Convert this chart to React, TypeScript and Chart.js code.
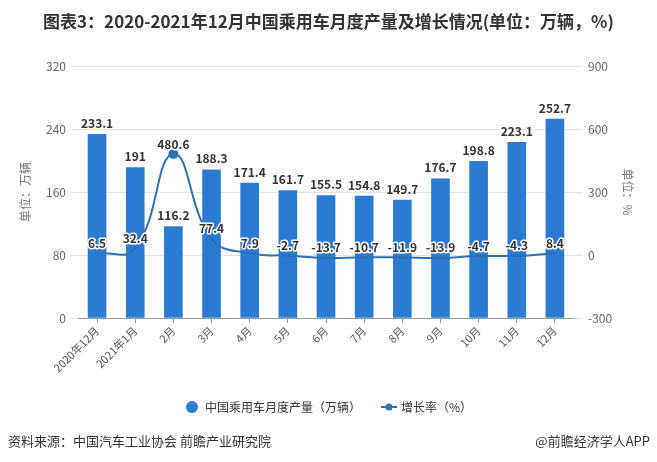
import React, { useEffect, useRef } from "react";
import { Chart, registerables } from "chart.js";

Chart.register(...registerables);

const categories = ["2020年12月", "2021年1月", "2月", "3月", "4月", "5月", "6月", "7月", "8月", "9月", "10月", "11月", "12月"];
const production = [233.1, 191, 116.2, 188.3, 171.4, 161.7, 155.5, 154.8, 149.7, 176.7, 198.8, 223.1, 252.7];
const growth = [6.5, 32.4, 480.6, 77.4, 7.9, -2.7, -13.7, -10.7, -11.9, -13.9, -4.7, -4.3, 8.4];
const leftTicks = [0, 80, 160, 240, 320];
const rightTicks = [-300, 0, 300, 600, 900];

const TITLE = "图表3：2020-2021年12月中国乘用车月度产量及增长情况(单位：万辆，%)";
const BAR_NAME = "中国乘用车月度产量（万辆）";
const LINE_NAME = "增长率（%）";
const SOURCE = "资料来源：中国汽车工业协会 前瞻产业研究院";
const BRAND = "@前瞻经济学人APP";

const FONT = '"Noto Sans CJK SC", "Noto Sans", sans-serif';
const BAR_COLOR = "#2b7bd3";
const LINE_COLOR = "#2f6fb3";

const decorPlugin = {
  id: "decor",
  afterDatasetsDraw(chart: any) {
    const ctx = chart.ctx;
    ctx.save();
    ctx.font = `bold 12px ${FONT}`;
    ctx.textAlign = "center";
    ctx.textBaseline = "bottom";
    ctx.fillStyle = "#333";
    const barMeta = chart.getDatasetMeta(0);
    barMeta.data.forEach((el: any, i: number) => {
      ctx.fillText(String(production[i]), el.x, el.y - 5);
    });
    const lineMeta = chart.getDatasetMeta(1);
    ctx.lineWidth = 3;
    ctx.lineJoin = "round";
    ctx.strokeStyle = "#fff";
    lineMeta.data.forEach((el: any, i: number) => {
      const t = String(growth[i]);
      ctx.strokeText(t, el.x, el.y - 4);
      ctx.fillText(t, el.x, el.y - 4);
    });
    ctx.restore();
  },
  afterDraw(chart: any) {
    const ctx = chart.ctx;
    const w = chart.width;
    ctx.save();
    // title
    ctx.font = `bold 17px ${FONT}`;
    ctx.fillStyle = "#333";
    ctx.textAlign = "center";
    ctx.textBaseline = "middle";
    ctx.fillText(TITLE, w / 2, 22);
    // axis titles
    ctx.font = `12px ${FONT}`;
    ctx.fillStyle = "#777";
    ctx.save();
    ctx.translate(25, 192);
    ctx.rotate(-Math.PI / 2);
    ctx.fillText("单位：万辆", 0, 0);
    ctx.restore();
    ctx.save();
    ctx.translate(628, 192);
    ctx.rotate(Math.PI / 2);
    ctx.fillText("单位：%", 0, 0);
    ctx.restore();
    // legend
    const ly = 407;
    ctx.fillStyle = BAR_COLOR;
    ctx.beginPath();
    ctx.arc(192, ly, 6, 0, Math.PI * 2);
    ctx.fill();
    ctx.font = `12px ${FONT}`;
    ctx.fillStyle = "#333";
    ctx.textAlign = "left";
    ctx.fillText(BAR_NAME, 205, ly);
    ctx.strokeStyle = LINE_COLOR;
    ctx.lineWidth = 2;
    ctx.beginPath();
    ctx.moveTo(381, ly);
    ctx.lineTo(397, ly);
    ctx.stroke();
    ctx.fillStyle = LINE_COLOR;
    ctx.beginPath();
    ctx.arc(389, ly, 3.5, 0, Math.PI * 2);
    ctx.fill();
    ctx.fillStyle = "#333";
    ctx.fillText(LINE_NAME, 401, ly);
    // footer
    ctx.font = `13px ${FONT}`;
    ctx.fillStyle = "#333";
    ctx.textAlign = "left";
    ctx.fillText(SOURCE, 8, 441);
    ctx.textAlign = "right";
    ctx.fillText(BRAND, 650, 441);
    ctx.restore();
  },
};

export default function App() {
  const ref = useRef<HTMLCanvasElement>(null);
  useEffect(() => {
    if (!ref.current) return;
    const chart = new Chart(ref.current, {
      type: "bar",
      data: {
        labels: categories,
        datasets: [
          {
            type: "bar",
            label: BAR_NAME,
            data: production,
            backgroundColor: BAR_COLOR,
            barThickness: 18,
            yAxisID: "y",
            order: 2,
          },
          {
            type: "line",
            label: LINE_NAME,
            data: growth,
            borderColor: LINE_COLOR,
            backgroundColor: LINE_COLOR,
            borderWidth: 2,
            tension: 0.45,
            pointRadius: growth.map((_, i) => (i === 2 ? 5 : 0)),
            pointBorderWidth: 0,
            yAxisID: "y1",
            order: 1,
          } as any,
        ],
      },
      options: {
        animation: false,
        responsive: true,
        maintainAspectRatio: false,
        layout: { padding: { top: 66, bottom: 74, left: 0, right: 0 } },
        plugins: { legend: { display: false }, tooltip: { enabled: false }, title: { display: false } },
        scales: {
          x: {
            afterFit: (s: any) => {
              s.height = 70;
            },
            grid: { drawOnChartArea: false, drawTicks: true, tickLength: 5, offset: false, color: "#999" },
            border: { color: "#999" },
            ticks: {
              minRotation: 45,
              maxRotation: 45,
              padding: 1,
              color: "#555",
              font: { size: 11, family: FONT },
            },
          },
          y: {
            position: "left",
            min: leftTicks[0],
            max: leftTicks[leftTicks.length - 1],
            afterFit: (s: any) => {
              s.width = 78;
            },
            afterBuildTicks: (s: any) => {
              s.ticks = leftTicks.map((v) => ({ value: v }));
            },
            grid: { color: "#e3e3e3", tickLength: 8, drawTicks: true },
            border: { display: false },
            ticks: { padding: 4, color: "#666", font: { size: 12, family: FONT } },
          },
          y1: {
            position: "right",
            min: rightTicks[0],
            max: rightTicks[rightTicks.length - 1],
            afterFit: (s: any) => {
              s.width = 83;
            },
            afterBuildTicks: (s: any) => {
              s.ticks = rightTicks.map((v) => ({ value: v }));
            },
            grid: { drawOnChartArea: false, color: "#e3e3e3", tickLength: 8, drawTicks: true },
            border: { display: false },
            ticks: { padding: 6, color: "#666", font: { size: 12, family: FONT } },
          },
        },
      } as any,
      plugins: [decorPlugin],
    });
    return () => chart.destroy();
  }, []);
  return (
    <div style={{ position: "absolute", left: 0, top: 0, width: 657, height: 462, background: "#fff" }}>
      <canvas ref={ref} />
    </div>
  );
}
